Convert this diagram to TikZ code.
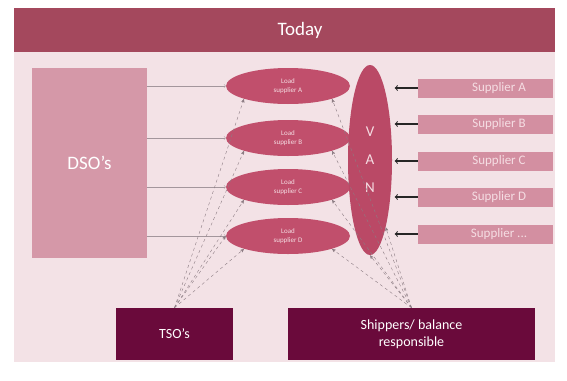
\documentclass[tikz,border=0pt]{standalone}
\usepackage{fontspec}
\setmainfont{Carlito}
\usepackage{tikz}
\usetikzlibrary{shapes,arrows,positioning}

\definecolor{panelpink}{HTML}{F3E2E6}
\definecolor{titlerose}{HTML}{A4485D}
\definecolor{dsopink}{HTML}{D598A8}
\definecolor{loadred}{HTML}{C14F6C}
\definecolor{vanred}{HTML}{BA4966}
\definecolor{supbar}{HTML}{D38FA1}
\definecolor{suptext}{HTML}{F5DDE3}
\definecolor{maroon}{HTML}{6A0A3B}
\definecolor{linegray}{HTML}{8C7C83}

\begin{document}
\begin{tikzpicture}[x=1pt,y=-1pt,>=stealth',semithick]
\tikzstyle{dsobox}=[rectangle,fill=dsopink,text=white,minimum width=115pt,minimum height=190pt,font=\fontsize{19}{22}\selectfont]
\tikzstyle{load}=[ellipse,fill=loadred,text=suptext,inner sep=0pt,minimum width=124pt,minimum height=36pt,align=center,font=\fontsize{7}{9}\selectfont]
\tikzstyle{vanbody}=[ellipse,fill=vanred,text=suptext,inner sep=0pt,minimum width=44pt,minimum height=190pt,align=center,font=\fontsize{15}{28}\selectfont]
\tikzstyle{supplier}=[rectangle,fill=supbar,text=suptext,inner sep=0pt,minimum width=135pt,minimum height=19pt,font=\fontsize{13}{15}\selectfont]
\tikzstyle{party}=[rectangle,fill=maroon,text=white,align=center,minimum height=52pt,font=\fontsize{14}{17}\selectfont]
\tikzstyle{dsoline}=[->,thin,linegray!80,>=to]
\tikzstyle{feed}=[->,line width=1.1pt,black!85,>=to]
\tikzstyle{role}=[->,thin,dashed,linegray,>=stealth']

% frame and title
\useasboundingbox (0,0) rectangle (567,380);
\fill[panelpink] (14,8) rectangle (555,362);
\fill[titlerose] (14,8) rectangle (555,52);
\node[text=white,font=\fontsize{19}{22}\selectfont] (title) at (300,30) {Today};

% left and middle
\node[dsobox] (dso) at (89.5,163) {DSO's};
\node[load] (l1) at (288,86) {Load\\supplier A};
\node[load] (l2) at (288,138) {Load\\supplier B};
\node[load] (l3) at (288,187) {Load\\supplier C};
\node[load] (l4) at (288,236) {Load\\supplier D};
\node[vanbody] (van) at (370,160) {V\\A\\N};

% suppliers
\node[supplier] (s1) at (485.5,88) {\hspace*{27pt}Supplier A};
\node[supplier] (s2) at (485.5,124) {\hspace*{27pt}Supplier B};
\node[supplier] (s3) at (485.5,161) {\hspace*{27pt}Supplier C};
\node[supplier] (s4) at (485.5,197) {\hspace*{27pt}Supplier D};
\node[supplier] (s5) at (485.5,234) {\hspace*{27pt}Supplier ...};

% bottom
\node[party,minimum width=117pt] (tso) at (174.5,334) {TSO's};
\node[party,minimum width=247pt] (ship) at (411.5,334) {Shippers/ balance\\responsible};

\foreach \i in {1,...,4}
  \draw[dsoline] (dso.east |- l\i.west) -- (l\i.west);
\foreach \i in {1,...,5}
  \draw[feed] (s\i.west) -- ++(-23,0);

\path (tso.north) edge[role] (l1.south west)
                  edge[role] (l2.south west)
                  edge[role] (l3.south west)
                  edge[role] (l4.west)
                  edge[role] (l4.south west)
      (ship.north) edge[role] (l1.south east)
                  edge[role] (l2.south east)
                  edge[role] (l3.south east)
                  edge[role] (l4.south east)
                  edge[role] (van.south)
                  edge[role] (van.south east);
\end{tikzpicture}
\end{document}
